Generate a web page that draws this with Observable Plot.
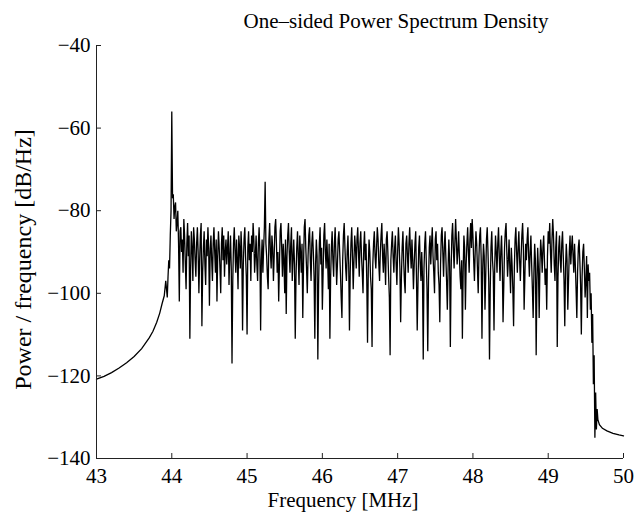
<!DOCTYPE html>
<html>
<head>
<meta charset="utf-8">
<script src="https://cdn.jsdelivr.net/npm/d3@7"></script>
<script src="https://cdn.jsdelivr.net/npm/@observablehq/plot@0.6"></script>
<style>
  html, body { margin: 0; padding: 0; background: #fff; }
  #chart svg { display: block; }
</style>
</head>
<body>
<div id="chart"></div>
<script>
// ---- Data ----
const titleText = "One\u2013sided Power Spectrum Density";
const xLabelText = "Frequency [MHz]";
const yLabelText = "Power / frequency [dB/Hz]";
const xTicks = [43, 44, 45, 46, 47, 48, 49, 50];
const yTicks = [-140, -120, -100, -80, -60, -40];

// smooth roll-off below the band
const lowFreq = [43.0, 43.1, 43.2, 43.3, 43.4, 43.5, 43.6, 43.7, 43.75, 43.8, 43.84, 43.87, 43.9];
const lowPsd  = [-120.8, -120.1, -119.2, -118.1, -116.8, -115.3, -113.4, -110.8, -109.2, -107.0, -104.8, -102.6, -100.6];

// noisy band, sampled every 0.01 MHz starting at 43.92 MHz (one row = 0.2 MHz)
const bandStart = 43.92;
const bandStep = 0.01;
const bandPsd = [
  -97, -99, -101, -96, -92, -94, -86, -80, -56, -77, -76, -82, -79, -78, -85, -83, -80, -88, -102, -85,
  -84, -90, -87, -95, -82, -86, -93, -99, -88, -83, -91, -86, -111, -94, -85, -89, -97, -84, -87, -92,
  -96, -88, -84, -90, -100, -92, -86, -83, -108, -95, -89, -85, -93, -98, -87, -91, -84, -89, -103, -90,
  -86, -92, -97, -88, -84, -90, -95, -87, -102, -91, -85, -89, -94, -100, -88, -84, -92, -86, -96, -90,
  -87, -93, -89, -85, -98, -91, -86, -94, -117, -97, -88, -84, -90, -95, -87, -92, -99, -86, -89, -94,
  -85, -90, -109, -93, -87, -84, -91, -96, -110, -89, -85, -92, -88, -97, -86, -90, -83, -87, -95, -91,
  -86, -93, -97, -88, -84, -90, -109, -92, -87, -95, -89, -84, -73, -88, -91, -96, -99, -87, -83, -90,
  -94, -86, -89, -97, -91, -84, -82, -88, -95, -90, -102, -93, -85, -83, -89, -96, -88, -92, -100, -87,
  -105, -91, -86, -83, -90, -95, -88, -84, -97, -92, -87, -93, -111, -96, -89, -85, -91, -98, -86, -90,
  -95, -88, -106, -93, -84, -82, -89, -94, -100, -91, -86, -84, -92, -97, -88, -85, -90, -96, -111, -93,
  -87, -91, -116, -98, -88, -84, -93, -89, -104, -95, -86, -83, -90, -94, -87, -92, -99, -88, -111, -96,
  -89, -85, -92, -96, -88, -84, -91, -98, -93, -87, -85, -90, -95, -101, -106, -92, -86, -83, -89, -94,
  -97, -90, -86, -93, -109, -95, -88, -84, -91, -99, -92, -86, -89, -94, -87, -84, -90, -96, -88, -85,
  -91, -95, -100, -89, -85, -92, -88, -97, -112, -94, -87, -90, -96, -99, -113, -93, -88, -85, -91, -94,
  -89, -84, -87, -93, -97, -90, -86, -83, -91, -95, -88, -92, -98, -87, -85, -90, -96, -101, -115, -92,
  -88, -85, -91, -95, -89, -86, -93, -98, -90, -84, -88, -94, -107, -96, -89, -85, -92, -97, -100, -88,
  -86, -91, -95, -88, -84, -90, -94, -87, -92, -99, -93, -88, -85, -96, -109, -98, -89, -86, -93, -97,
  -90, -96, -116, -94, -88, -85, -92, -99, -114, -97, -89, -86, -93, -88, -84, -91, -95, -100, -87, -85,
  -92, -88, -95, -98, -107, -93, -86, -84, -90, -96, -89, -85, -91, -97, -104, -94, -87, -92, -113, -95,
  -86, -83, -89, -94, -88, -82, -87, -93, -90, -85, -91, -96, -99, -92, -111, -95, -86, -89, -104, -93,
  -88, -84, -90, -95, -87, -83, -89, -82, -86, -92, -97, -90, -85, -88, -94, -100, -91, -86, -84, -92,
  -111, -94, -88, -91, -104, -96, -87, -84, -90, -97, -116, -99, -89, -85, -92, -95, -109, -93, -86, -90,
  -95, -88, -84, -91, -97, -90, -86, -93, -107, -98, -89, -85, -83, -90, -96, -92, -87, -94, -100, -89,
  -93, -99, -108, -94, -87, -84, -90, -95, -89, -85, -92, -97, -91, -86, -83, -89, -104, -96, -88, -92,
  -87, -84, -91, -96, -90, -86, -93, -99, -106, -95, -88, -92, -115, -97, -89, -94, -106, -93, -87, -90,
  -95, -89, -86, -92, -98, -94, -104, -91, -85, -88, -83, -90, -95, -87, -82, -86, -93, -97, -89, -85,
  -113, -96, -89, -86, -92, -95, -88, -85, -91, -97, -108, -94, -88, -92, -104, -97, -90, -86, -93, -89,
  -86, -91, -95, -88, -93, -99, -106, -95, -89, -87, -92, -98, -110, -96, -90, -88, -94, -101, -97, -91,
  -106, -93, -97, -95, -104, -100, -112, -105, -122, -115, -135
];

// smooth tail above the band
const highFreq = [49.63, 49.64, 49.65, 49.66, 49.68, 49.72, 49.78, 49.86, 49.94, 50.0];
const highPsd  = [-124, -133, -128, -130.6, -131.8, -132.7, -133.3, -133.9, -134.3, -134.5];

// ---- Build the series ----
const series = [];
lowFreq.forEach((f, i) => series.push({f, p: lowPsd[i]}));
bandPsd.forEach((p, i) => series.push({f: +(bandStart + i * bandStep).toFixed(2), p}));
highFreq.forEach((f, i) => series.push({f, p: highPsd[i]}));

const font = "'Liberation Serif', 'Times New Roman', Times, serif";
const W = 637, H = 519, ML = 96, MR = 14, MT = 45, MB = 61;
const frameW = W - ML - MR, frameH = H - MT - MB, tickLen = 5;

const chart = Plot.plot({
  width: W,
  height: H,
  marginLeft: ML,
  marginRight: MR,
  marginTop: MT,
  marginBottom: MB,
  style: {fontFamily: font, fontSize: "21px", background: "#fff", color: "#000", overflow: "visible"},
  x: {domain: [43, 50]},
  y: {domain: [-140, -40]},
  marks: [
    Plot.line(series, {x: "f", y: "p", stroke: "#000", strokeWidth: 1.3, strokeLinejoin: "miter", strokeMiterlimit: 2}),
    Plot.ruleX([43], {stroke: "#222", strokeWidth: 1}),
    Plot.ruleY([-140], {stroke: "#222", strokeWidth: 1}),
    Plot.tickX(xTicks, {x: d => d, insetTop: frameH - tickLen, stroke: "#222"}),
    Plot.tickY(yTicks, {y: d => d, insetRight: frameW - tickLen, stroke: "#222"}),
    Plot.axisX({ticks: xTicks, tickSize: 0, tickPadding: 10, label: null, tickFormat: d => String(d), fontSize: 21}),
    Plot.axisY({ticks: yTicks, tickSize: 0, tickPadding: 6, label: null, tickFormat: d => (d < 0 ? "\u2212" + Math.abs(d) : String(d)), fontSize: 21}),
    Plot.text([titleText], {text: d => d, frameAnchor: "top-left", dx: 147, dy: -24.7, textAnchor: "start", lineAnchor: "middle", fontSize: 21}),
    Plot.text([xLabelText], {text: d => d, frameAnchor: "bottom-left", dx: 171, dy: 41.5, textAnchor: "start", lineAnchor: "middle", fontSize: 21}),
    Plot.text([yLabelText], {text: d => d, frameAnchor: "left", dx: -72.7, dy: 7.5, rotate: -90, textAnchor: "middle", lineAnchor: "middle", fontSize: 24})
  ]
});

document.getElementById("chart").appendChild(chart);
</script>
</body>
</html>
